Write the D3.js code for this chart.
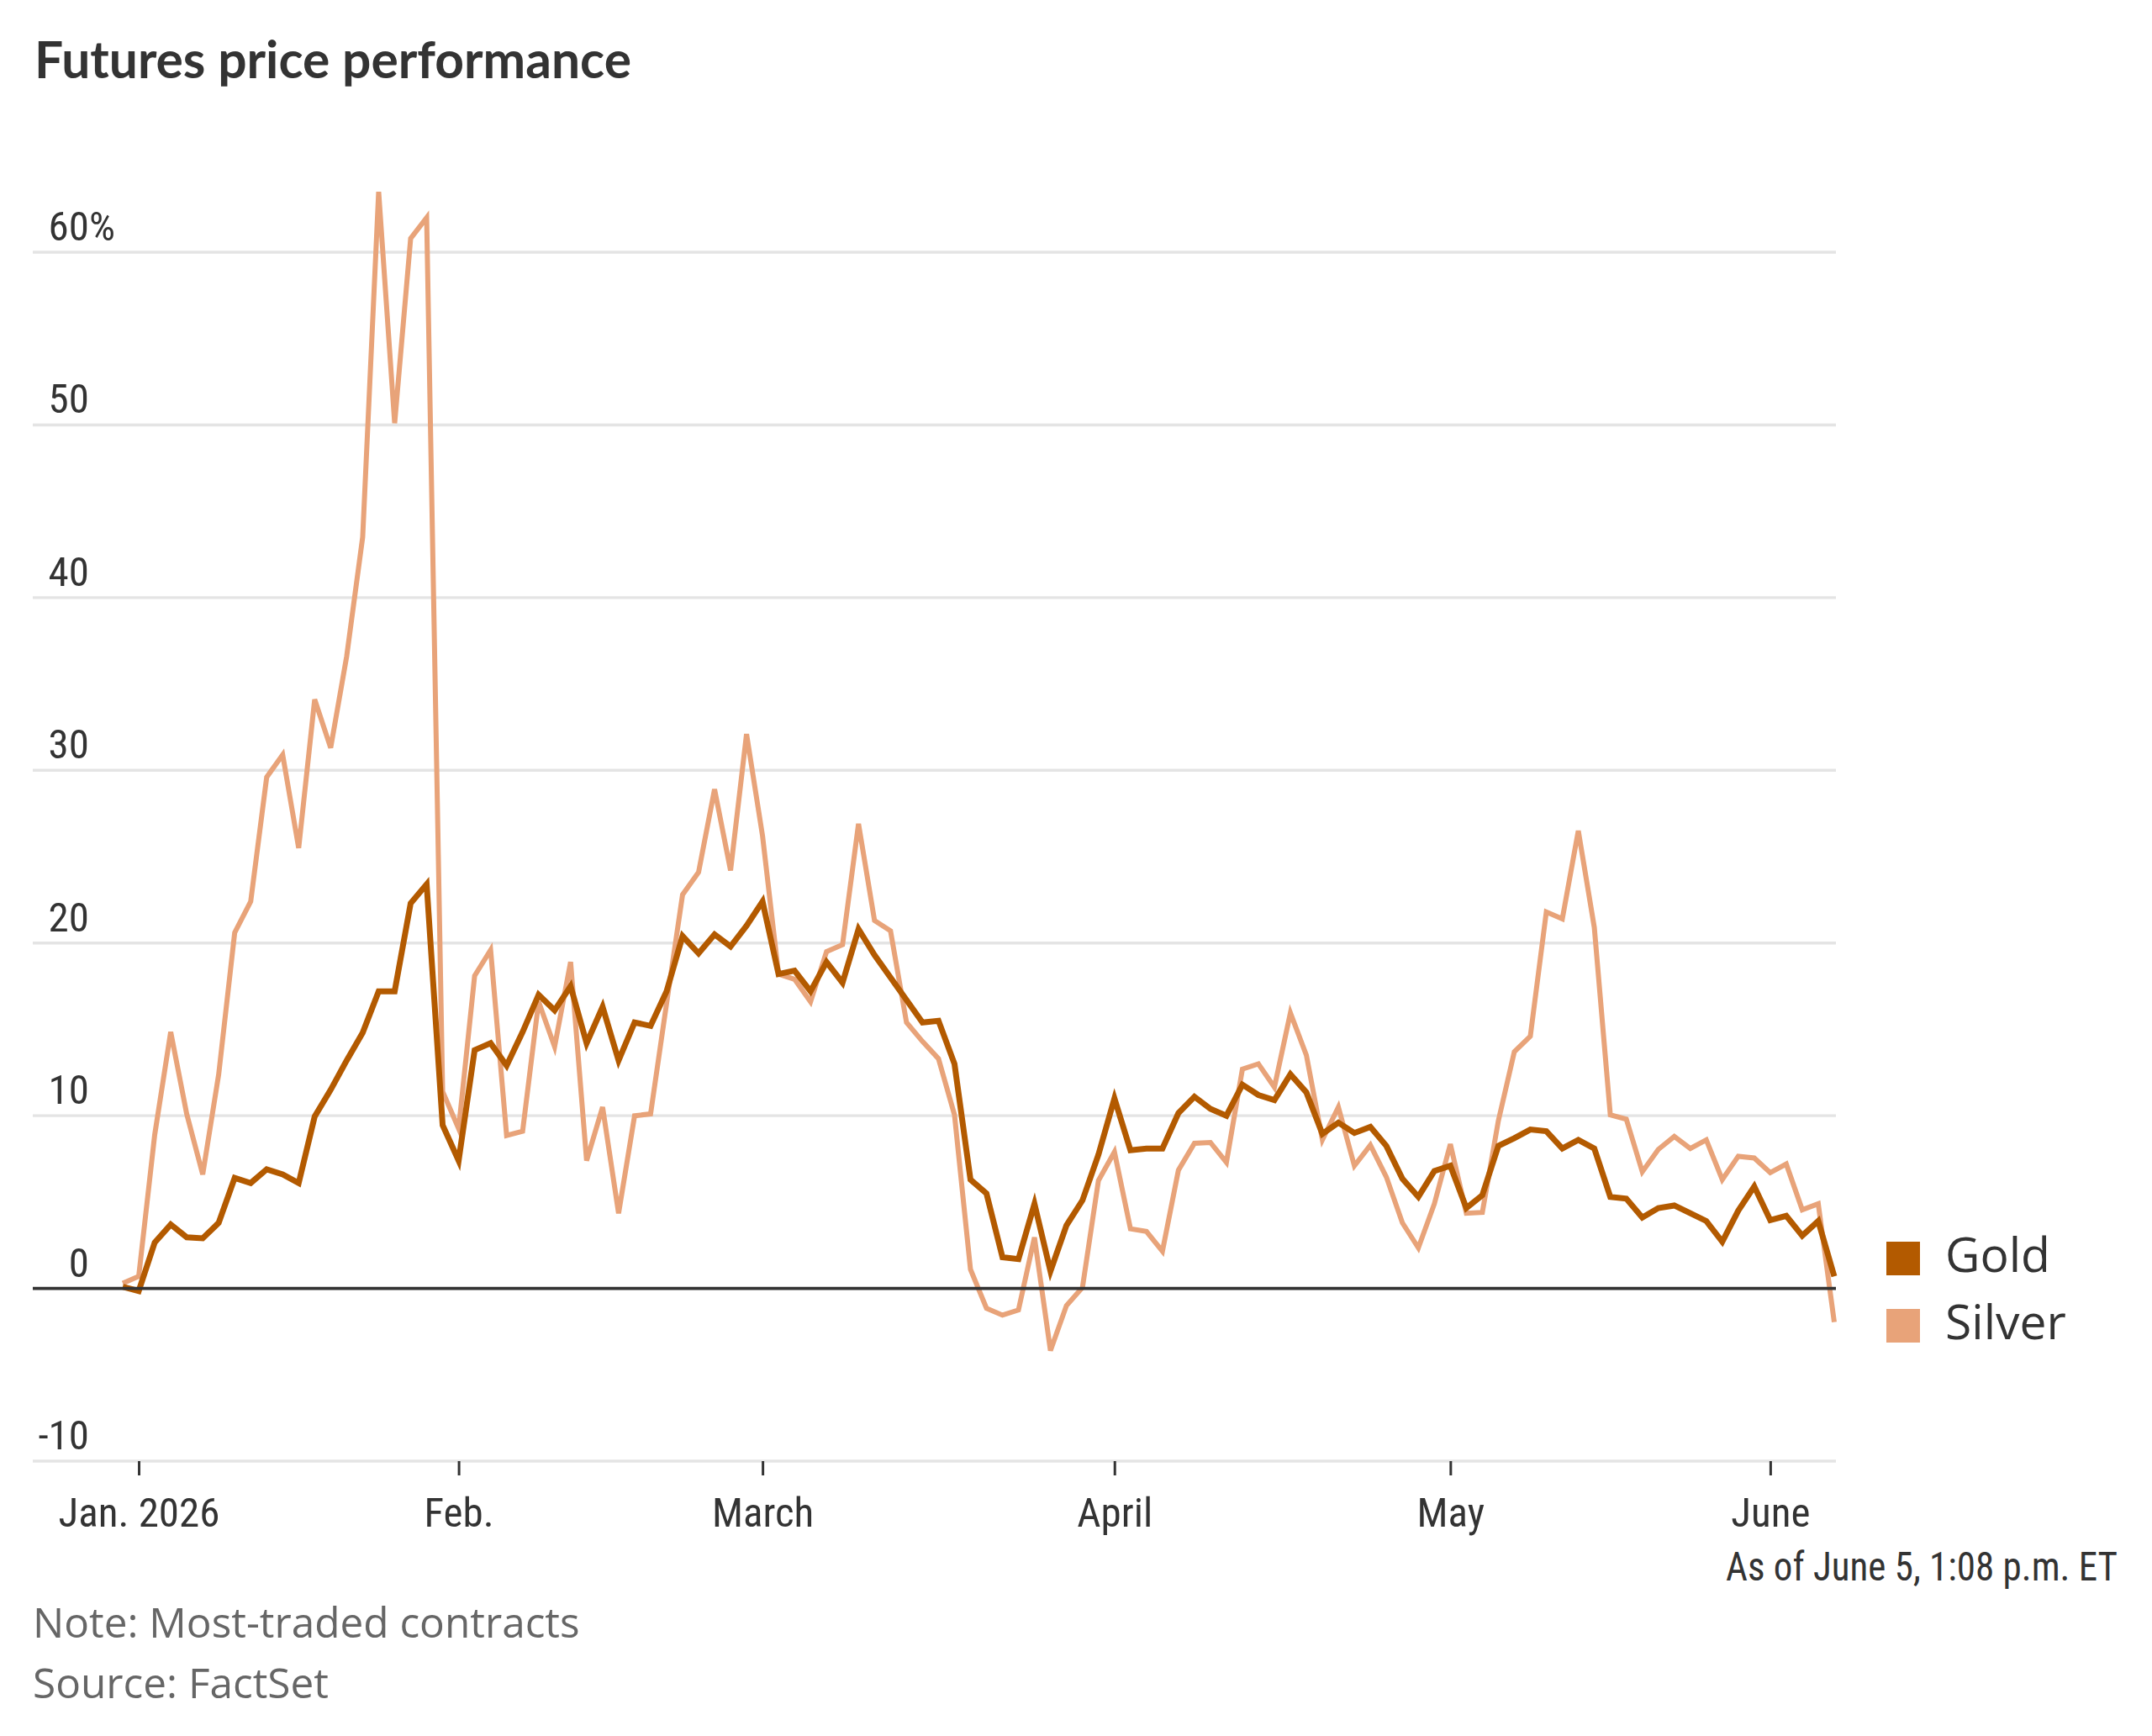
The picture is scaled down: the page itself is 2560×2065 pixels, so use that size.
<!DOCTYPE html>
<html><head><meta charset="utf-8">
<script src="https://cdn.jsdelivr.net/npm/d3@7"></script>
<style>
html,body{margin:0;padding:0;background:#fff;}
svg{display:block;}
</style></head><body>
<script>
// Percent change since Dec. 31, 2025, one value per trading day (index 0 = Dec. 31)
const gold = [0.1,-0.15,2.66,3.7,2.96,2.9,3.8,6.4,6.1,6.9,6.6,6.1,9.95,11.5,13.2,14.8,17.2,17.2,22.3,23.4,
  9.45,7.4,13.8,14.2,12.9,14.85,17.0,16.1,17.5,14.2,16.3,13.2,15.4,15.2,17.2,20.4,19.4,20.5,19.8,21.0,
  22.4,18.2,18.4,17.2,18.9,17.7,20.8,19.3,18.0,16.7,15.4,15.5,13.0,6.3,5.5,1.8,1.7,4.9,1.0,3.65,
  5.1,7.75,11.0,8.0,8.1,8.1,10.15,11.1,10.4,10.0,11.8,11.2,10.9,12.4,11.35,8.95,9.6,9.0,9.35,8.25,
  6.35,5.3,6.8,7.1,4.65,5.4,8.25,8.7,9.2,9.1,8.1,8.6,8.1,5.3,5.2,4.1,4.65,4.8,4.35,3.9,
  2.7,4.5,5.9,3.95,4.2,3.05,3.9,0.7];
const silver = [0.3,0.7,8.9,14.85,10.1,6.6,12.4,20.6,22.4,29.6,30.9,25.5,34.1,31.3,36.6,43.5,63.5,50.1,60.8,62.0,
  11.4,9.25,18.1,19.6,8.85,9.1,16.6,14.0,18.9,7.4,10.5,4.35,10.0,10.1,16.5,22.8,24.1,28.9,24.2,32.1,
  26.2,18.2,17.9,16.6,19.5,19.9,26.9,21.3,20.7,15.4,14.3,13.3,10.05,1.1,-1.15,-1.55,-1.25,2.95,-3.6,-1.0,
  0.05,6.25,7.9,3.45,3.3,2.15,6.85,8.4,8.45,7.3,12.7,13.0,11.65,15.95,13.5,8.6,10.5,7.1,8.3,6.45,
  3.8,2.35,4.9,8.35,4.35,4.4,9.7,13.7,14.6,21.8,21.4,26.5,20.9,10.05,9.8,6.75,8.05,8.8,8.1,8.6,
  6.3,7.65,7.55,6.7,7.2,4.55,4.9,-1.95];
// First trading day of each month (index into the series) and its label
const monthTickIndex = [1, 21, 40, 62, 83, 103];
const monthTickLabels = ["Jan. 2026", "Feb.", "March", "April", "May", "June"];
const yTickValues = [-10, 0, 10, 20, 30, 40, 50, 60];
const seriesNames = ["Gold", "Silver"];
const seriesColors = ["#b35a00", "#e8a379"];

const W = 2560, H = 2065;
const narrow = "'Liberation Sans Narrow','Arial Narrow','Roboto Condensed',sans-serif";
const regular = "'Open Sans','Noto Sans',sans-serif";

const svg = d3.select("body").append("svg").attr("width", W).attr("height", H);

const gridLeft = 39, gridRight = 2184;
const x = d3.scaleLinear().domain([0, gold.length - 1]).range([146, 2182]);
const y = d3.scaleLinear().domain([-10, 60]).range([1738, 300]);

// Title
svg.append("text").attr("x", 41).attr("y", 93)
  .attr("font-family", "Lato, 'Open Sans', sans-serif").attr("font-weight", 700)
  .attr("font-size", 60.5).attr("fill", "#333").text("Futures price performance");

// Gridlines
const grid = svg.append("g");
grid.selectAll("line").data(yTickValues.filter(v => v !== 0)).join("line")
  .attr("x1", gridLeft).attr("x2", gridRight)
  .attr("y1", d => y(d)).attr("y2", d => y(d))
  .attr("stroke", "#e4e4e4").attr("stroke-width", 3.4);

// Y labels
const yl = svg.append("g").attr("font-family", narrow).attr("font-size", 49).attr("fill", "#333");
yl.selectAll("text").data(yTickValues).join("text")
  .attr("x", 106).attr("y", d => y(d) - 14).attr("text-anchor", "end")
  .text(d => d);
yl.append("text").attr("x", 106).attr("y", y(60) - 14).text("%");

// X axis
const xAxis = d3.axisBottom(x).tickValues(monthTickIndex)
  .tickFormat((d, i) => monthTickLabels[i]).tickSize(17).tickSizeOuter(0);
const gx = svg.append("g").attr("transform", `translate(0,${y(-10)})`).call(xAxis);
gx.select(".domain").remove();
gx.selectAll(".tick line").attr("stroke", "#333").attr("stroke-width", 3);
gx.selectAll(".tick text").attr("y", 78).attr("dy", 0)
  .attr("font-family", narrow).attr("font-size", 49).attr("fill", "#333");

// Lines
const line = d3.line().x((d, i) => x(i)).y(d => y(d));
const seriesData = [gold, silver];
[1, 0].forEach(k => {
  svg.append("path").datum(seriesData[k]).attr("d", line)
    .attr("fill", "none").attr("stroke", seriesColors[k])
    .attr("stroke-width", k === 0 ? 7 : 6).attr("stroke-linejoin", "miter");
});

// Zero line
svg.append("line").attr("x1", gridLeft).attr("x2", gridRight)
  .attr("y1", y(0)).attr("y2", y(0)).attr("stroke", "#333").attr("stroke-width", 3.7);

// Legend
const lg = svg.append("g");
seriesNames.forEach((n, k) => {
  lg.append("rect").attr("x", 2244).attr("y", 1477 + k * 80).attr("width", 40).attr("height", 40)
    .attr("fill", seriesColors[k]);
  lg.append("text").attr("x", 2314).attr("y", 1513 + k * 80)
    .attr("font-family", regular).attr("font-size", 57).attr("fill", "#333").text(n);
});

// Timestamp
svg.append("text").attr("x", 2519).attr("y", 1880).attr("text-anchor", "end")
  .attr("font-family", narrow).attr("font-size", 49).attr("fill", "#333")
  .attr("textLength", 466).attr("lengthAdjust", "spacingAndGlyphs")
  .text("As of June 5, 1:08 p.m. ET");

// Notes
svg.append("text").attr("x", 39).attr("y", 1948)
  .attr("font-family", regular).attr("font-size", 49.5).attr("fill", "#666")
  .text("Note: Most-traded contracts");
svg.append("text").attr("x", 39).attr("y", 2020)
  .attr("font-family", regular).attr("font-size", 49.5).attr("fill", "#666")
  .text("Source: FactSet");
</script>
</body></html>
